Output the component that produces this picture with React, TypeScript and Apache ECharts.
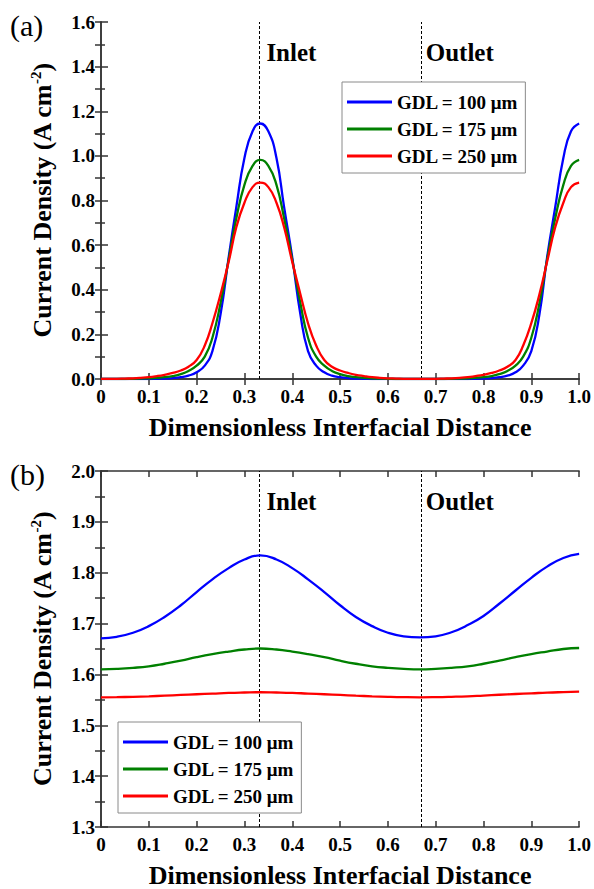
import React, { useEffect, useRef } from "react";
import * as echarts from "echarts";

// ---------- data ----------
const seriesNames = ["GDL = 100 μm", "GDL = 175 μm", "GDL = 250 μm"];
const seriesColors = ["#0000ff", "#008000", "#ff0000"];
const dividers = [1 / 3, 2 / 3];
const dividerLabels = ["Inlet", "Outlet"];

// panel (a)
const xTop = [
  0, 0.017, 0.033, 0.05, 0.067, 0.083, 0.1, 0.117, 0.133, 0.15, 0.167, 0.183, 0.2, 0.217, 0.233, 0.25,
  0.267, 0.283, 0.3, 0.317, 0.333, 0.35, 0.367, 0.383, 0.4, 0.417, 0.433, 0.45, 0.467, 0.483, 0.5,
  0.517, 0.533, 0.55, 0.567, 0.583, 0.6, 0.617, 0.633, 0.65, 0.667, 0.683, 0.7, 0.717, 0.733, 0.75,
  0.767, 0.783, 0.8, 0.817, 0.833, 0.85, 0.867, 0.883, 0.9, 0.917, 0.933, 0.95, 0.967, 0.983, 1.0,
];
const blueTop = [
  0, 0, 0, 0, 0, 0, 0, 0.001, 0.002, 0.004, 0.008, 0.015, 0.03, 0.06, 0.125, 0.29, 0.545, 0.77, 0.99, 1.11, 1.145,
  1.11, 0.99, 0.77, 0.545, 0.29, 0.125, 0.06, 0.03, 0.015, 0.008, 0.004, 0.002, 0.001, 0, 0, 0, 0, 0, 0, 0,
  0, 0, 0, 0, 0, 0, 0.001, 0.002, 0.004, 0.008, 0.015, 0.03, 0.06, 0.125, 0.29, 0.545, 0.77, 0.99, 1.11, 1.145,
];
const greenTop = [
  0, 0, 0, 0, 0.001, 0.002, 0.003, 0.005, 0.008, 0.013, 0.022, 0.036, 0.06, 0.1, 0.185, 0.34, 0.535, 0.72, 0.87, 0.955, 0.982,
  0.955, 0.87, 0.72, 0.535, 0.34, 0.185, 0.1, 0.06, 0.036, 0.022, 0.013, 0.008, 0.005, 0.003, 0.002, 0.001, 0, 0, 0, 0,
  0, 0, 0, 0.001, 0.002, 0.003, 0.005, 0.008, 0.013, 0.022, 0.036, 0.06, 0.1, 0.185, 0.34, 0.535, 0.72, 0.87, 0.955, 0.982,
];
const redTop = [
  0.001, 0.001, 0.001, 0.002, 0.003, 0.005, 0.008, 0.013, 0.019, 0.027, 0.038, 0.055, 0.085, 0.15, 0.25, 0.38, 0.525, 0.68, 0.79, 0.86, 0.88,
  0.86, 0.79, 0.68, 0.525, 0.38, 0.25, 0.15, 0.085, 0.055, 0.038, 0.027, 0.019, 0.013, 0.008, 0.005, 0.003, 0.002, 0.001, 0.001, 0.001,
  0.001, 0.001, 0.002, 0.003, 0.005, 0.008, 0.013, 0.019, 0.027, 0.038, 0.055, 0.085, 0.15, 0.25, 0.38, 0.525, 0.68, 0.79, 0.86, 0.88,
];

// panel (b)
const xBottom = [
  0, 0.033, 0.067, 0.1, 0.133, 0.167, 0.2, 0.233, 0.267, 0.3, 0.333, 0.367, 0.4, 0.433, 0.467, 0.5,
  0.533, 0.567, 0.6, 0.633, 0.667, 0.7, 0.733, 0.767, 0.8, 0.833, 0.867, 0.9, 0.933, 0.967, 1.0,
];
const blueBottom = [
  1.671, 1.674, 1.682, 1.695, 1.713, 1.736, 1.762, 1.787, 1.809, 1.826, 1.834,
  1.826, 1.809, 1.787, 1.762, 1.736, 1.713, 1.695, 1.682, 1.675, 1.673,
  1.675, 1.683, 1.697, 1.715, 1.739, 1.765, 1.79, 1.812, 1.829, 1.837,
];
const greenBottom = [
  1.61, 1.611, 1.613, 1.616, 1.621, 1.627, 1.634, 1.64, 1.645, 1.649, 1.651,
  1.649, 1.645, 1.64, 1.634, 1.627, 1.621, 1.616, 1.613, 1.611, 1.61,
  1.611, 1.613, 1.616, 1.621, 1.627, 1.634, 1.64, 1.645, 1.65, 1.652,
];
const redBottom = [
  1.555, 1.5553, 1.556, 1.557, 1.5583, 1.5597, 1.561, 1.5623, 1.5637, 1.5645, 1.565,
  1.5645, 1.5637, 1.5623, 1.561, 1.5597, 1.5583, 1.557, 1.556, 1.5553, 1.555,
  1.5553, 1.556, 1.557, 1.5585, 1.56, 1.5615, 1.5628, 1.5642, 1.5652, 1.566,
];

const xRange = { min: 0, max: 1, interval: 0.1 };
const yTopRange = { min: 0, max: 1.6, interval: 0.2 };
const yBottomRange = { min: 1.3, max: 2.0, interval: 0.1 };

const xTitle = "Dimensionless Interfacial Distance";
const yTitle = "{a|Current Density (A cm}{s|-2}{a|)}";
const panelLabels = ["(a)", "(b)"];

// ---------- styling ----------
const FONT = "'Liberation Serif', 'Times New Roman', Times, serif";
const AXIS_COLOR = "#333333";

function zip(xs: number[], ys: number[]) {
  return xs.map((x, i) => [x, ys[i]]);
}

const gridTops = [22, 471];
const GRID_LEFT = 101;
const GRID_W = 482;
const GRID_H = 357;

function xAxes(gridIndex: number) {
  const line = { show: true, lineStyle: { color: AXIS_COLOR, width: 1.5 } };
  return [
    {
      gridIndex,
      type: "value",
      ...xRange,
      position: "bottom",
      axisLine: line,
      axisTick: { show: true, inside: true, length: 6, lineStyle: { color: AXIS_COLOR, width: 1.5 } },
      axisLabel: {
        formatter: (v: number) => (v === 0 ? "0" : v.toFixed(1)),
        fontFamily: FONT,
        fontWeight: "bold",
        fontSize: 19,
        color: "#000",
        margin: 8,
      },
      splitLine: { show: false },
      name: xTitle,
      nameLocation: "middle",
      nameGap: 35,
      nameTextStyle: { fontFamily: FONT, fontWeight: "bold", fontSize: 26, color: "#000" },
    },
    {
      gridIndex,
      type: "value",
      ...xRange,
      position: "top",
      axisLine: line,
      axisTick: { show: true, inside: true, length: 6, lineStyle: { color: AXIS_COLOR, width: 1.5 } },
      axisLabel: { show: false },
      splitLine: { show: false },
    },
  ];
}

function yAxes(gridIndex: number, range: { min: number; max: number; interval: number }) {
  const line = { show: true, lineStyle: { color: AXIS_COLOR, width: 1.5 } };
  return [
    {
      gridIndex,
      type: "value",
      ...range,
      position: "left",
      axisLine: line,
      axisTick: { show: true, inside: true, length: 7, lineStyle: { color: AXIS_COLOR, width: 1.5 } },
      minorTick: { show: true, splitNumber: 2, length: 4, lineStyle: { color: AXIS_COLOR, width: 1.5 } },
      minorSplitLine: { show: false },
      axisLabel: {
        formatter: (v: number) => v.toFixed(1),
        fontFamily: FONT,
        fontWeight: "bold",
        fontSize: 19,
        color: "#000",
        margin: 6,
      },
      splitLine: { show: false },
      name: yTitle,
      nameLocation: "middle",
      nameGap: 45,
      nameTextStyle: {
        rich: {
          a: { fontFamily: FONT, fontWeight: "bold", fontSize: 26, color: "#000", lineHeight: 28 },
          s: { fontFamily: FONT, fontWeight: "bold", fontSize: 15, color: "#000", lineHeight: 12, verticalAlign: "top" },
        },
      },
    },
    {
      gridIndex,
      type: "value",
      min: range.min,
      max: range.max,
      interval: range.interval / 2,
      position: "right",
      axisLine: line,
      axisTick: { show: true, inside: true, length: 6, lineStyle: { color: AXIS_COLOR, width: 1.5 } },
      axisLabel: { show: false },
      splitLine: { show: false },
    },
  ];
}

function lineSeries(name: string, color: string, xs: number[], ys: number[], axisIdx: number, withMark: boolean) {
  const s: any = {
    name,
    type: "line",
    xAxisIndex: axisIdx,
    yAxisIndex: axisIdx,
    data: zip(xs, ys),
    showSymbol: false,
    symbol: "none",
    smooth: 0.5,
    color,
    itemStyle: { color },
    lineStyle: { color, width: 2.3 },
    z: 3,
  };
  if (withMark) {
    s.markLine = {
      silent: true,
      symbol: ["none", "none"],
      label: { show: false },
      lineStyle: { color: "#000", type: [3, 2], width: 1 },
      data: dividers.map((d) => ({ xAxis: d })),
      z: 1,
    };
  }
  return s;
}

function legend(left: number, top: number) {
  return {
    show: true,
    orient: "vertical",
    left,
    top,
    padding: [10, 7, 7, 5],
    itemGap: 7,
    itemWidth: 45,
    itemHeight: 3,
    icon: "rect",
    borderColor: "#8a8a8a",
    borderWidth: 1,
    backgroundColor: "#ffffff",
    selectedMode: false,
    textStyle: { fontFamily: FONT, fontWeight: "bold", fontSize: 19, color: "#000", lineHeight: 20 },
    data: seriesNames,
  };
}

export default function App() {
  const ref = useRef<HTMLDivElement>(null);

  useEffect(() => {
    document.body.style.margin = "0";
    if (!ref.current) return;
    const chart = echarts.init(ref.current, null, { renderer: "svg" });

    const topData = [blueTop, greenTop, redTop];
    const bottomData = [blueBottom, greenBottom, redBottom];

    const option: any = {
      animation: false,
      backgroundColor: "#ffffff",
      grid: gridTops.map((t) => ({ left: GRID_LEFT, top: t, width: GRID_W, height: GRID_H })),
      xAxis: [...xAxes(0), ...xAxes(1)],
      yAxis: [...yAxes(0, yTopRange), ...yAxes(1, yBottomRange)],
      legend: [legend(342, 82), legend(118, 722)],
      series: [
        ...seriesNames.map((n, i) => lineSeries(n, seriesColors[i], xTop, topData[i], 0, i === 0)),
        ...seriesNames.map((n, i) => lineSeries(n, seriesColors[i], xBottom, bottomData[i], 2, i === 0)),
      ],
    };
    chart.setOption(option);

    const graphics: any[] = [];
    panelLabels.forEach((lab, gi) => {
      graphics.push({
        type: "text",
        x: 10,
        y: gridTops[gi] + 3,
        style: { text: lab, fontFamily: FONT, fontSize: 30, fill: "#000", align: "left", verticalAlign: "middle" },
      });
      const yMax = gi === 0 ? yTopRange.max : yBottomRange.max;
      dividers.forEach((d, di) => {
        const p = chart.convertToPixel({ gridIndex: gi } as any, [d, yMax]) as number[];
        graphics.push({
          type: "text",
          x: p[0] + 6,
          y: p[1] + 30,
          style: {
            text: dividerLabels[di],
            fontFamily: FONT,
            fontWeight: "bold",
            fontSize: 25,
            fill: "#000",
            align: "left",
            verticalAlign: "middle",
          },
        });
      });
    });
    chart.setOption({ graphic: graphics });

    return () => chart.dispose();
  }, []);

  return (
    <div
      ref={ref}
      style={{ position: "absolute", left: 0, top: 0, width: 594, height: 889 }}
    />
  );
}
